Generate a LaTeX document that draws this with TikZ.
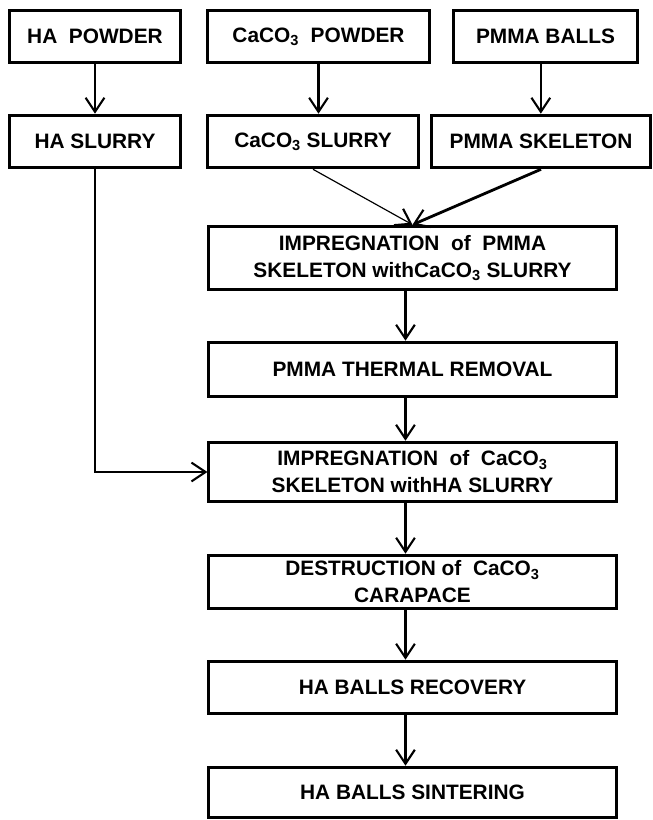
\documentclass[tikz,border=0pt]{standalone}
\usepackage{fontspec}
\setmainfont{Liberation Sans}
\usetikzlibrary{arrows.meta}
\newcommand{\caco}{CaCO\textsubscript{3}}
\tikzset{
    procbox/.style={draw, line width=2.4pt, align=center, inner sep=0pt,
        font=\fontsize{17.8}{23}\selectfont\bfseries},
    arr/.style={line width=1.8pt, -{Straight Barb[length=12pt,width=16pt,line width=1.8pt]}}
}
\begin{document}
\begin{tikzpicture}[x=0.03cm, y=-0.03cm]
    \useasboundingbox (0,0) rectangle (653,820);
    % raw materials
    \node[procbox, minimum width=172*0.85pt, minimum height=53*0.85pt] (hapow) at (95,36.5) {HA\ \ POWDER};
    \node[procbox, minimum width=223*0.85pt, minimum height=53*0.85pt] (capow) at (318.5,36.5) {\caco\ \ POWDER};
    \node[procbox, minimum width=185*0.85pt, minimum height=53*0.85pt] (pmmab) at (545.5,36.5) {PMMA BALLS};
    \node[procbox, minimum width=172*0.85pt, minimum height=53*0.85pt] (hasl) at (95,141.5) {HA SLURRY};
    \node[procbox, minimum width=212*0.85pt, minimum height=53*0.85pt] (casl) at (313,141.5) {\caco\ SLURRY};
    \node[procbox, minimum width=220*0.85pt, minimum height=53*0.85pt] (pmmask) at (541,141.5) {PMMA SKELETON};
    % main line
    \node[procbox, minimum width=409*0.85pt, minimum height=64*0.85pt] (imp1) at (412.5,258) {IMPREGNATION\ \ of\ \ PMMA\\SKELETON with\caco\ SLURRY};
    \node[procbox, minimum width=409*0.85pt, minimum height=55*0.85pt] (therm) at (412.5,369.5) {PMMA THERMAL REMOVAL};
    \node[procbox, minimum width=409*0.85pt, minimum height=60*0.85pt] (imp2) at (412.5,472) {IMPREGNATION\ \ of\ \ \caco\\SKELETON withHA SLURRY};
    \node[procbox, minimum width=409*0.85pt, minimum height=54*0.85pt] (destr) at (412.5,582) {DESTRUCTION of\ \ \caco\\CARAPACE};
    \node[procbox, minimum width=409*0.85pt, minimum height=53*0.85pt] (recov) at (412.5,687.5) {HA BALLS RECOVERY};
    \node[procbox, minimum width=409*0.85pt, minimum height=51*0.85pt] (sint) at (412.5,792.5) {HA BALLS SINTERING};
    % arrows
    \draw[arr] (hapow) -- (hapow |- hasl.north);
    \draw[arr] (capow.south) -- (capow.south |- casl.north);
    \draw[arr] ([xshift=-4pt]pmmab.south) -- ([xshift=-4pt]pmmab.south |- pmmask.north);
    \draw[arr, line width=1pt] (casl.south) -- (imp1.north);
    \draw[arr, line width=2.4pt] (pmmask.south) -- (imp1.north);
    \draw[arr] (hasl.south) |- (imp2.west);
    \foreach \a/\b in {imp1/therm, therm/imp2, imp2/destr, destr/recov, recov/sint}
        \draw[arr] ([xshift=-6pt]\a.south) -- ([xshift=-6pt]\b.north);
\end{tikzpicture}
\end{document}
